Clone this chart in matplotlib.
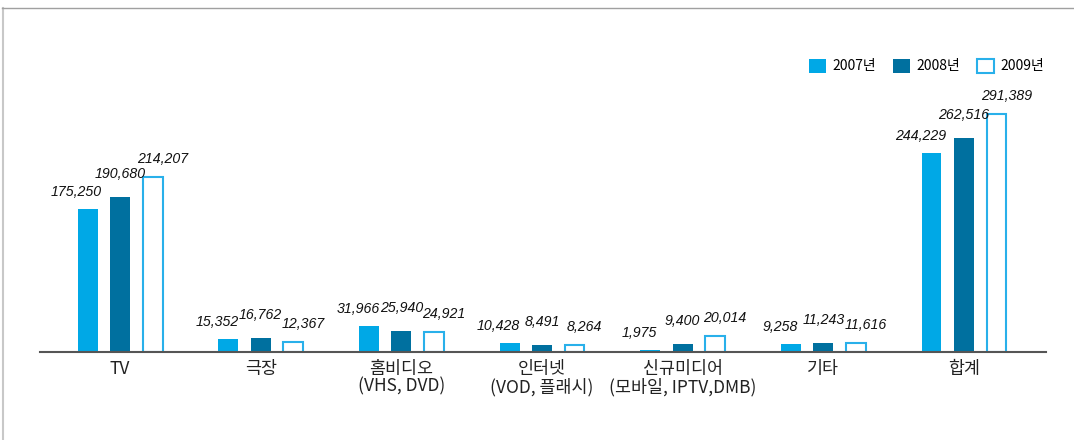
import matplotlib
matplotlib.use("Agg")
import matplotlib.pyplot as plt
from matplotlib.lines import Line2D
import numpy as np

plt.rcParams['font.family'] = ['Noto Sans CJK KR', 'DejaVu Sans']

categories = ['TV', '극장', '홈비디오\n(VHS, DVD)', '인터넷\n(VOD, 플래시)',
              '신규미디어\n(모바일, IPTV,DMB)', '기타', '합계']
series = ['2007년', '2008년', '2009년']
v2007 = [175250, 15352, 31966, 10428, 1975, 9258, 244229]
v2008 = [190680, 16762, 25940, 8491, 9400, 11243, 262516]
v2009 = [214207, 12367, 24921, 8264, 20014, 11616, 291389]

# label nudges in pixels (dx, dy above bar top) per series
label_dx = [-11, 0, 10]
label_dy = [10, 16, 11]

fig = plt.figure(figsize=(10.74, 4.4), dpi=100)
ax = fig.add_axes([40/1074, 88/440, 1006/1074, 322/440])

x = np.arange(len(categories))
w = 0.142
off = 0.231
c07, c08, c09 = '#00a8e6', '#00709f', '#29b0ea'

b1 = ax.bar(x - off, v2007, w, color=c07, label=series[0])
b2 = ax.bar(x, v2008, w, color=c08, label=series[1])
b3 = ax.bar(x + off, v2009, w, facecolor='white', edgecolor=c09, linewidth=1.5, label=series[2])

for i, (bars, vals) in enumerate(zip([b1, b2, b3], [v2007, v2008, v2009])):
    for b, v in zip(bars, vals):
        ax.annotate(f'{v:,}', (b.get_x() + b.get_width()/2, v),
                    xytext=(label_dx[i], label_dy[i]), textcoords='offset pixels',
                    ha='center', va='bottom', fontsize=10.2, style='italic',
                    family='Liberation Sans', color='#111111')

ax.set_xlim(-0.569, 6.583)
ax.set_ylim(0, 395000)
ax.set_xticks(x)
ax.set_xticklabels(categories, fontsize=12.5, color='#222222', linespacing=0.95)
ax.tick_params(axis='x', length=0, pad=6)
ax.set_yticks([])
for s in ['top', 'right', 'left']:
    ax.spines[s].set_visible(False)
ax.spines['bottom'].set_color('#555555')
ax.spines['bottom'].set_linewidth(1.5)

leg = ax.legend(loc='upper right', bbox_to_anchor=(1050/1074, 387/440), bbox_transform=fig.transFigure,
                ncol=3, frameon=False, fontsize=10, handlelength=1.2, handleheight=1.2,
                handletextpad=0.5, columnspacing=1.2, borderaxespad=0)

# outer frame (left and top edges)
fig.add_artist(Line2D([3/1074, 3/1074], [0, 432/440], color='#c8c8c8', linewidth=1.5))
fig.add_artist(Line2D([2/1074, 1], [432/440, 432/440], color='#a0a0a0', linewidth=1))

fig.savefig('out.png', dpi=100)
